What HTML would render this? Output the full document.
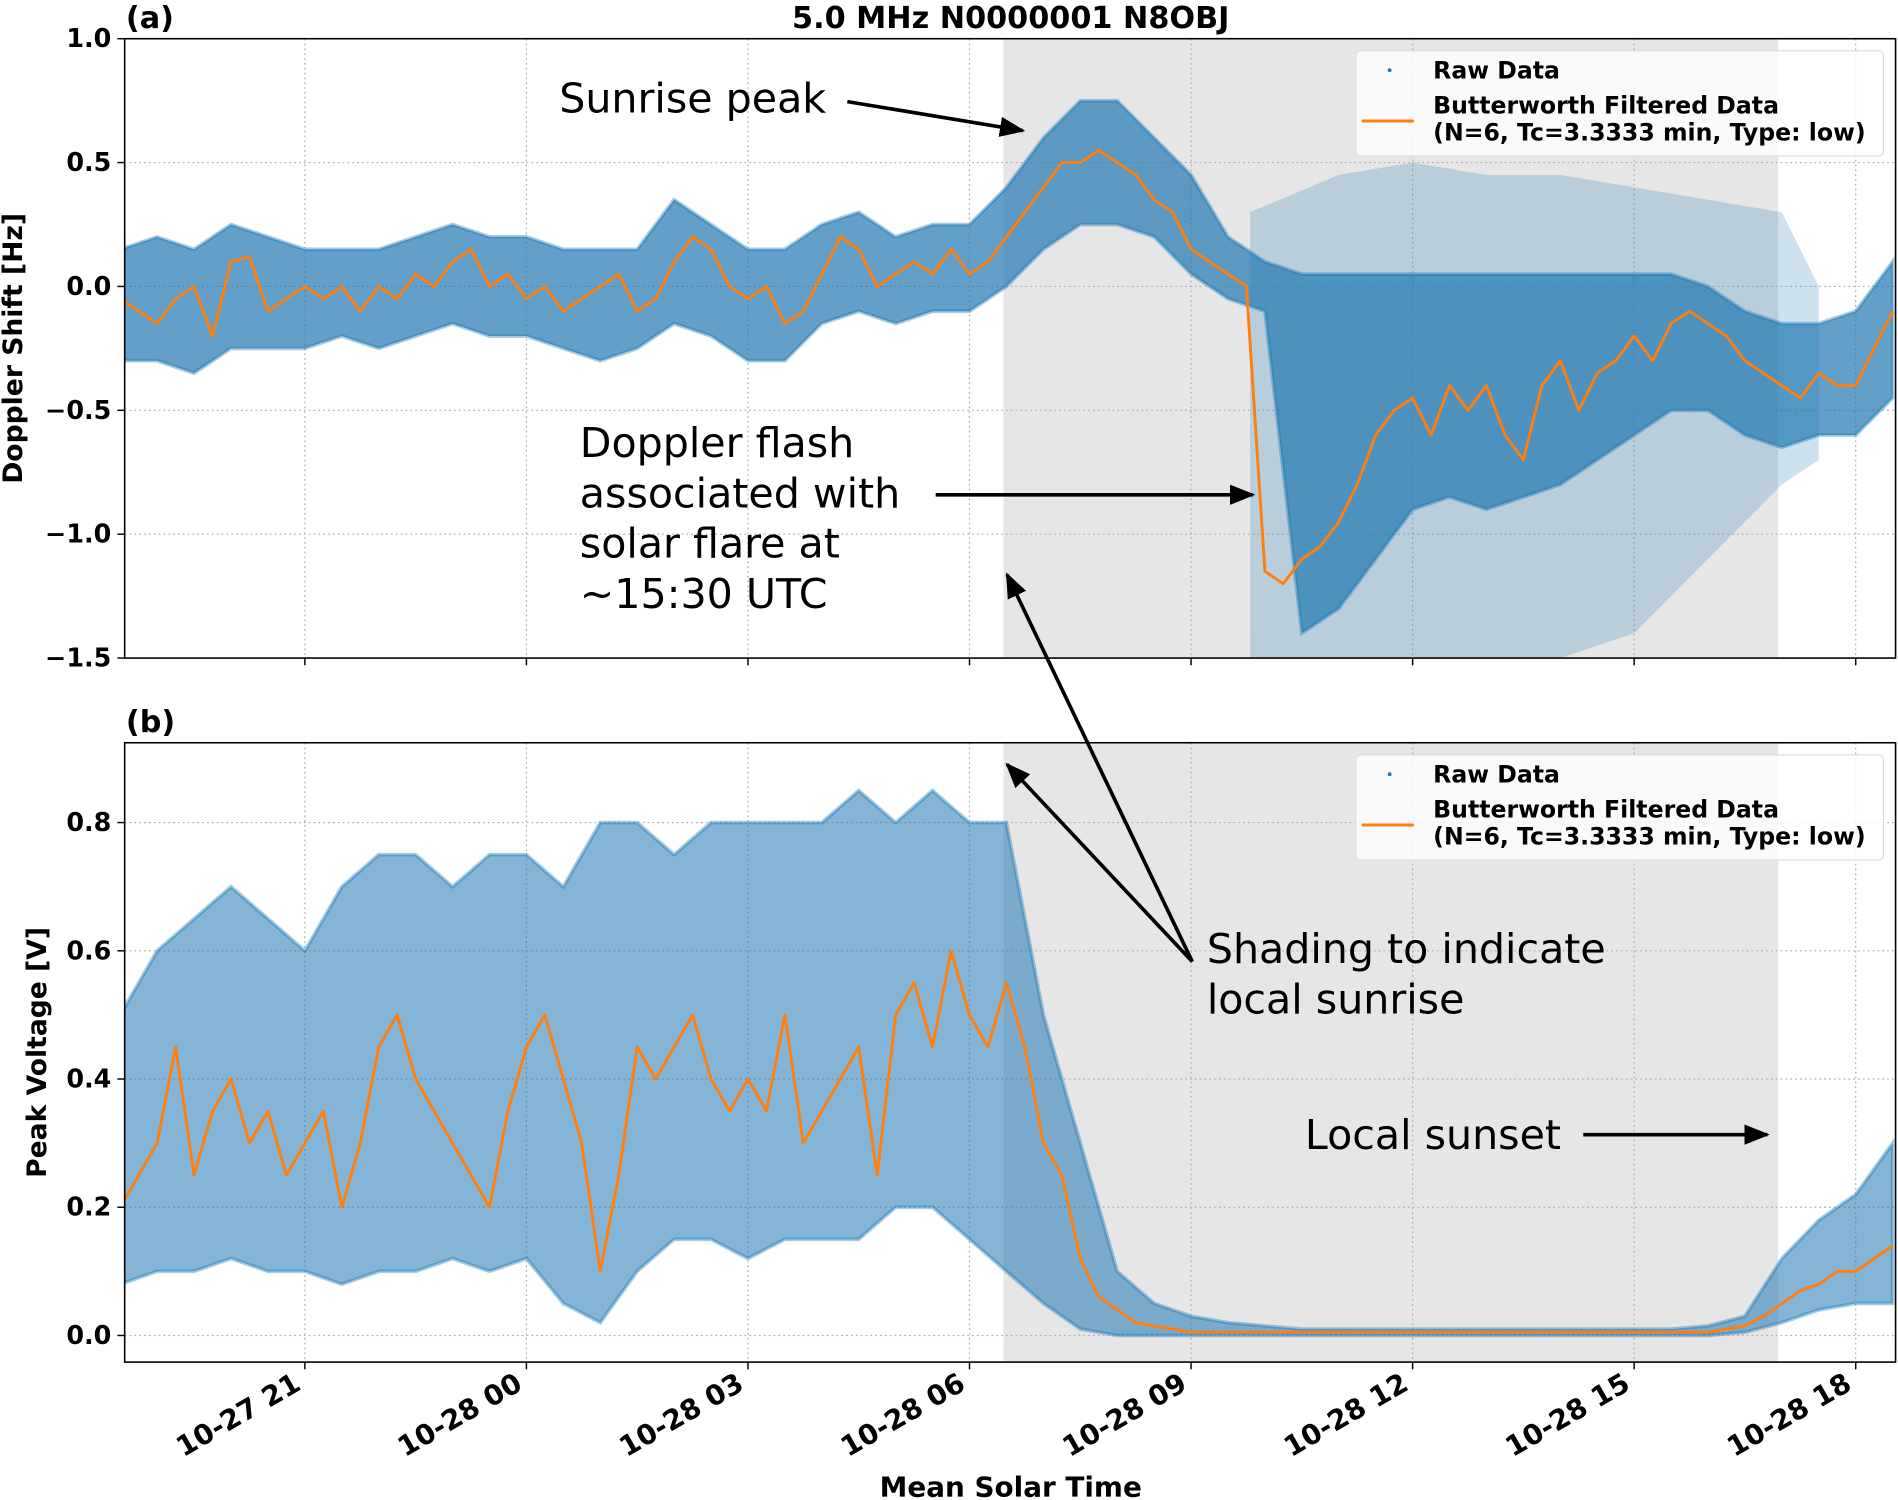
<!DOCTYPE html>
<html><head><meta charset="utf-8"><style>
html,body{margin:0;padding:0;background:#fff;}
svg{display:block;font-family:"DejaVu Sans","Liberation Sans",sans-serif;}
.tk{font-family:"DejaVu Sans","Liberation Sans",sans-serif;font-weight:bold;font-size:20px;fill:#000;}
.ann{font-family:"DejaVu Sans","Liberation Sans",sans-serif;font-size:34px;fill:#000;}
.lg{font-family:"DejaVu Sans","Liberation Sans",sans-serif;font-weight:bold;font-size:19.5px;fill:#000;}
</style></head><body>
<svg id="chart" width="1898" height="1500" viewBox="0 0 1568 1240" preserveAspectRatio="none" xmlns="http://www.w3.org/2000/svg">
<defs><marker id="ah" viewBox="0 0 10 10" refX="9" refY="5" markerWidth="7" markerHeight="7" orient="auto"><path d="M0,1 L10,5 L0,9 z" fill="#000"/></marker></defs>
<g id="root"></g>
</svg>
<script>
// ---- data (hours since 10-27 00:00 mean solar time) ----
const t0 = 18.5, fStep = 0.25, bStep = 0.5;
const dopplerFiltered = [-0.05,-0.1,
 -0.15,-0.05,0.0,-0.2, 0.1,0.12,-0.1,-0.05, 0.0,-0.05,0.0,-0.1, 0.0,-0.05,0.05,0.0,
 0.1,0.15,0.0,0.05, -0.05,0.0,-0.1,-0.05, 0.0,0.05,-0.1,-0.05, 0.1,0.2,0.15,0.0,
 -0.05,0.0,-0.15,-0.1, 0.05,0.2,0.15,0.0, 0.05,0.1,0.05,0.15, 0.05,0.1,0.2,0.3,
 0.4,0.5,0.5,0.55, 0.5,0.45,0.35,0.3, 0.15,0.1,0.05,0.0, -1.15,-1.2,-1.1,-1.05,
 -0.95,-0.8,-0.6,-0.5, -0.45,-0.6,-0.4,-0.5, -0.4,-0.6,-0.7,-0.4, -0.3,-0.5,-0.35,-0.3,
 -0.2,-0.3,-0.15,-0.1, -0.15,-0.2,-0.3,-0.35, -0.4,-0.45,-0.35,-0.4, -0.4,-0.25,-0.1];
const dopplerRawLo = [-0.3,-0.3,-0.35,-0.25,-0.25,-0.25,-0.2,-0.25,-0.2,-0.15,-0.2,-0.2,-0.25,-0.3,-0.25,-0.15,-0.2,-0.3,-0.3,-0.15,-0.1,-0.15,-0.1,-0.1,
 0.0,0.15,0.25,0.25,0.2,0.05,
 -0.05,-0.1,-1.4,-1.3,-1.1,-0.9,-0.85,-0.9,-0.85,-0.8,-0.7,-0.6,-0.5,-0.5,-0.6,-0.65,-0.6,-0.6,-0.45];
const dopplerRawHi = [0.15,0.2,0.15,0.25,0.2,0.15,0.15,0.15,0.2,0.25,0.2,0.2,0.15,0.15,0.15,0.35,0.25,0.15,0.15,0.25,0.3,0.2,0.25,0.25,
 0.4,0.6,0.75,0.75,0.6,0.45,
 0.2,0.1,0.05,0.05,0.05,0.05,0.05,0.05,0.05,0.05,0.05,0.05,0.05,0.0,-0.1,-0.15,-0.15,-0.1,0.1];
const sparseT  = [33.8,35,36,37,38,39,40,41,41.5];
const sparseHi = [0.3,0.45,0.5,0.45,0.45,0.4,0.35,0.3,0.0];
const sparseLo = [-1.5,-1.5,-1.5,-1.5,-1.5,-1.4,-1.1,-0.8,-0.7];
const voltFiltered = [0.2,0.25,
 0.3,0.45,0.25,0.35, 0.4,0.3,0.35,0.25, 0.3,0.35,0.2,0.3, 0.45,0.5,0.4,0.35,
 0.3,0.25,0.2,0.35, 0.45,0.5,0.4,0.3, 0.1,0.25,0.45,0.4, 0.45,0.5,0.4,0.35,
 0.4,0.35,0.5,0.3, 0.35,0.4,0.45,0.25, 0.5,0.55,0.45,0.6, 0.5,0.45,0.55,0.45,
 0.3,0.25,0.12,0.06, 0.04,0.02,0.015,0.01,
 0.005,0.005,0.005,0.005, 0.005,0.005,0.005,0.005, 0.005,0.005,0.005,0.005, 0.005,0.005,0.005,0.005,
 0.005,0.005,0.005,0.005, 0.005,0.005,0.005,0.005, 0.005,0.005,0.005,0.005,
 0.005,0.01,0.015,0.03, 0.05,0.07,0.08,0.1, 0.1,0.12,0.14];
const voltRawLo = [0.08,0.1,0.1,0.12,0.1,0.1,0.08,0.1,0.1,0.12,0.1,0.12,0.05,0.02,0.1,0.15,0.15,0.12,0.15,0.15,0.15,0.2,0.2,0.15,
 0.1,0.05,0.01,0,0,0,
 0,0,0,0,0,0,0,0,0,0,0,0,0,0,0.005,0.02,0.04,0.05,0.05];
const voltRawHi = [0.5,0.6,0.65,0.7,0.65,0.6,0.7,0.75,0.75,0.7,0.75,0.75,0.7,0.8,0.8,0.75,0.8,0.8,0.8,0.8,0.85,0.8,0.85,0.8,
 0.8,0.5,0.3,0.1,0.05,0.03,
 0.02,0.015,0.01,0.01,0.01,0.01,0.01,0.01,0.01,0.01,0.01,0.01,0.01,0.015,0.03,0.12,0.18,0.22,0.3];
const xTickHours = [21,24,27,30,33,36,39,42];
const xTickLabels = ["10-27 21","10-28 00","10-28 03","10-28 06","10-28 09","10-28 12","10-28 15","10-28 18"];
const aTicks = [1.0,0.5,0.0,-0.5,-1.0,-1.5];
const aTickLabels = ["1.0","0.5","0.0","\u22120.5","\u22121.0","\u22121.5"];
const bTicks = [0.0,0.2,0.4,0.6,0.8];
const bTickLabels = ["0.0","0.2","0.4","0.6","0.8"];
const shadeStart = 30.46, shadeEnd = 40.95;

// ---- axes ----
const X0=103, X1=1566, H0=18.56, H1=42.54;
const x = h => X0 + (h-H0)/(H1-H0)*(X1-X0);
const aTop=32, aBot=544, aMax=1.0, aMin=-1.5;
const ya = v => aTop + (aMax-v)/(aMax-aMin)*(aBot-aTop);
const bTop=614, bBot=1126, bMax=0.9245, bMin=-0.0415;
const yb = v => bTop + (bMax-v)/(bMax-bMin)*(bBot-bTop);

const NS="http://www.w3.org/2000/svg";
const root=document.getElementById('root');
function mk(tag, attrs, parent, text){const e=document.createElementNS(NS,tag);for(const k in attrs)e.setAttribute(k,attrs[k]);if(text!==undefined)e.textContent=text;(parent||root).appendChild(e);return e;}
function bandPath(ts, lo, hi, fx, fy){let d='';ts.forEach((t,i)=>{d+=(i?'L':'M')+fx(t).toFixed(1)+','+fy(hi[i]).toFixed(1);});for(let i=ts.length-1;i>=0;i--)d+='L'+fx(ts[i]).toFixed(1)+','+fy(lo[i]).toFixed(1);return d+'Z';}
function linePath(ts, v, fx, fy){return ts.map((t,i)=>(i?'L':'M')+fx(t).toFixed(1)+','+fy(v[i]).toFixed(1)).join('');}
const bT = dopplerRawLo.map((_,i)=>t0+i*bStep);
const fTd = dopplerFiltered.map((_,i)=>t0+i*fStep);
const fTv = voltFiltered.map((_,i)=>t0+i*fStep);

function panel(name, top, bot, fy, ticks, tlabels, lo, hi, filt, fT, clipId, op){
  const g=mk('g',{});  
  const cp=mk('clipPath',{id:clipId},g); mk('rect',{x:X0,y:top,width:X1-X0,height:bot-top},cp);
  const sh=mk('rect',{x:x(shadeStart),y:top,width:x(shadeEnd)-x(shadeStart),height:bot-top,fill:'#e6e6e6'},g);
   
  xTickHours.forEach(h=>{mk('line',{x1:x(h),x2:x(h),y1:top,y2:bot,stroke:'#b0b0b0','stroke-width':1,'stroke-dasharray':'1.5,2.5'},g);
    mk('line',{x1:x(h),x2:x(h),y1:bot,y2:bot+6,stroke:'#000','stroke-width':1.2},g);});
  ticks.forEach((v,i)=>{mk('line',{x1:X0,x2:X1,y1:fy(v),y2:fy(v),stroke:'#b0b0b0','stroke-width':1,'stroke-dasharray':'1.5,2.5'},g);
    mk('line',{x1:X0-6,x2:X0,y1:fy(v),y2:fy(v),stroke:'#000','stroke-width':1.2},g);
    const tl=mk('text',{x:X0-11,y:fy(v)+7,'text-anchor':'end',class:'tk',style:'font-size:21px'},g,tlabels[i]);
     });
  const dg=mk('g',{'clip-path':'url(#'+clipId+')'},g);
  if(name==='doppler-panel'){
    const sp=mk('path',{d:bandPath(sparseT,sparseLo,sparseHi,x,fy),fill:'#1f77b4','fill-opacity':0.22},dg);
     
  }
  const rb=mk('path',{d:bandPath(bT,lo,hi,x,fy),fill:'#1f77b4','fill-opacity':op,stroke:'#1f77b4','stroke-opacity':0.4,'stroke-width':3},dg);
   
  const fl=mk('path',{d:linePath(fT,filt,x,fy),fill:'none',stroke:'#ff7f0e','stroke-width':2.4,'stroke-linejoin':'round'},dg);
   
  mk('rect',{x:X0,y:top,width:X1-X0,height:bot-top,fill:'none',stroke:'#000','stroke-width':1.3},g);
  const ly=top+10;
  const lg=mk('g',{},g);  
  mk('rect',{x:1120,y:ly,width:436,height:87,rx:4,fill:'#fff','fill-opacity':0.8,stroke:'#ddd'},lg);
  mk('circle',{cx:1148,cy:ly+16,r:1.6,fill:'#1f77b4'},lg);
  mk('text',{x:1184,y:ly+23,class:'lg'},lg,'Raw Data');
  mk('line',{x1:1125,x2:1168,y1:ly+58,y2:ly+58,stroke:'#ff7f0e','stroke-width':2.5},lg);
  mk('text',{x:1184,y:ly+52,class:'lg'},lg,'Butterworth Filtered Data');
  mk('text',{x:1184,y:ly+74,class:'lg'},lg,'(N=6, Tc=3.3333 min, Type: low)');
  return g;
}
panel('doppler-panel',aTop,aBot,ya,aTicks,aTickLabels,dopplerRawLo,dopplerRawHi,dopplerFiltered,fTd,'ca',0.7);
panel('voltage-panel',bTop,bBot,yb,bTicks,bTickLabels,voltRawLo,voltRawHi,voltFiltered,fTv,'cb',0.55);

xTickHours.forEach((h,i)=>{const e=mk('text',{x:x(h)-2,y:1148,'text-anchor':'end',class:'tk',style:'font-size:23px',transform:'rotate(-30 '+(x(h)-2)+' 1148)'},root,xTickLabels[i]);
   });

function txt(name,attrs,s){const e=mk('text',attrs,root,s);return e;}
txt('chart-title',{x:835,y:23,'text-anchor':'middle',class:'tk',style:'font-size:25px'},'5.0 MHz N0000001 N8OBJ');
txt('panel-a-label',{x:104,y:23,class:'tk',style:'font-size:25px'},'(a)');
txt('panel-b-label',{x:104,y:605,class:'tk',style:'font-size:25px'},'(b)');
txt('x-axis-title',{x:835,y:1237,'text-anchor':'middle',class:'tk',style:'font-size:23px'},'Mean Solar Time');
txt('y-axis-title-a',{x:18,y:288,'text-anchor':'middle',class:'tk',style:'font-size:22px',transform:'rotate(-90 18 288)'},'Doppler Shift [Hz]');
txt('y-axis-title-b',{x:38,y:870,'text-anchor':'middle',class:'tk',style:'font-size:22px',transform:'rotate(-90 38 870)'},'Peak Voltage [V]');
txt('sunrise-peak-note',{x:462,y:93,class:'ann'},'Sunrise peak');
['Doppler flash','associated with','solar flare at','~15:30 UTC'].forEach((s,i)=>txt('doppler-flash-note',{x:479,y:378+i*41.5,class:'ann'},s));
txt('shading-note',{x:997,y:796,class:'ann'},'Shading to indicate');
txt('shading-note',{x:997,y:838,class:'ann'},'local sunrise');
txt('sunset-note',{x:1078,y:950,class:'ann'},'Local sunset');
function arrow(x1,y1,x2,y2){const e=mk('line',{x1,y1,x2,y2,stroke:'#000','stroke-width':3,'marker-end':'url(#ah)'});}
arrow(700,84,845,108);
arrow(773,409,1035,409);
arrow(985,795,832,475);
arrow(985,795,832,632);
arrow(1308,938,1460,938);
</script>
</body></html>
